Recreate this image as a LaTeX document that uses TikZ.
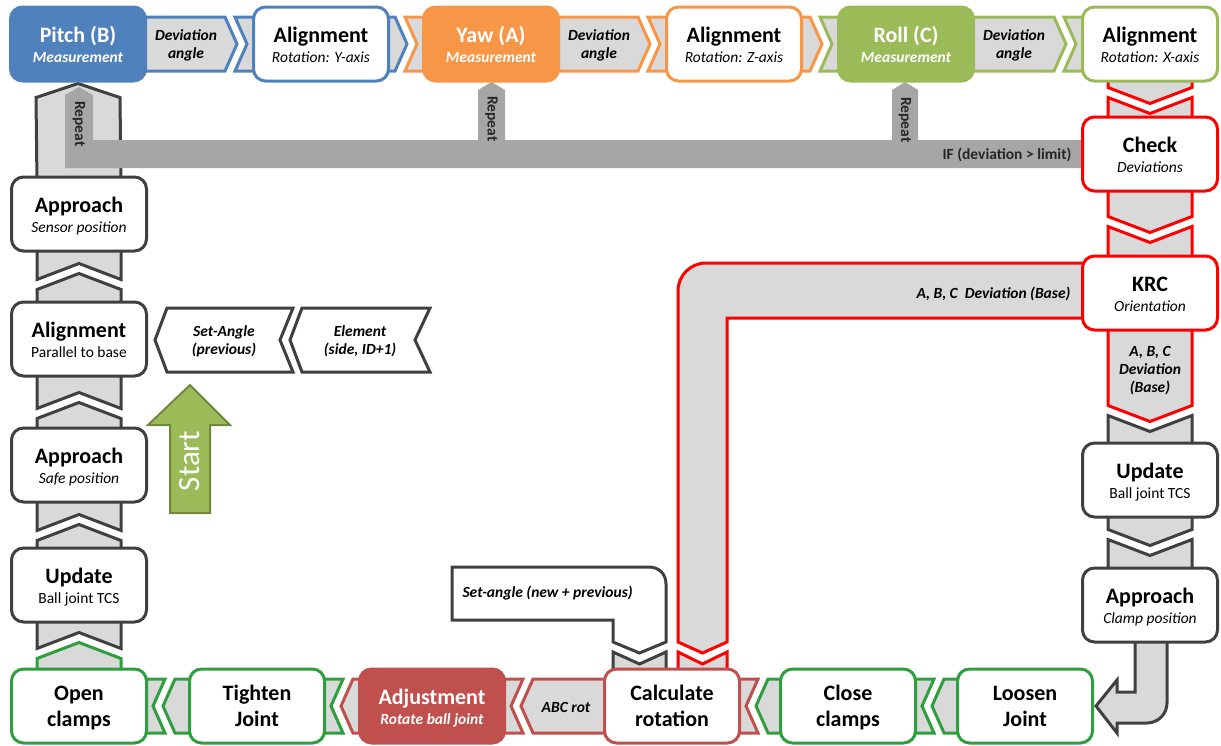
\documentclass[tikz,border=0pt]{standalone}
\usepackage{fontspec}
\setmainfont{Carlito}
\usepackage{xcolor}
\usepackage{tikz}
\usetikzlibrary{calc, backgrounds}

\definecolor{pitchblue}{HTML}{4F81BD}
\definecolor{yaworange}{HTML}{F79646}
\definecolor{rollgreen}{HTML}{9BBB59}
\definecolor{clampgreen}{HTML}{2E9E3E}
\definecolor{checkred}{HTML}{FF0000}
\definecolor{brick}{HTML}{C0504D}
\definecolor{darkline}{HTML}{404040}
\definecolor{bandgray}{HTML}{D9D9D9}
\definecolor{repeatgray}{HTML}{A6A6A6}
\definecolor{startline}{HTML}{71893F}

% box texts: bold head + note
\newcommand{\boxtwo}[2]{{\fontsize{22}{24}\selectfont\bfseries\rule{0pt}{22pt}#1}\\#2\rule[-5pt]{0pt}{5pt}}
\newcommand{\bigtwo}[2]{\rule{0pt}{21pt}#1\\#2\rule[-6pt]{0pt}{6pt}}

% chevron out of #1 and notched tail into #2
\newcommand{\linkright}[4]{%
  \draw[band, draw=#3] ($(#1.east)+(-8,-27)$) -- ($(#2.west)+(-27,-27)$) -- ($(#2.west)+(-15,0)$)
    -- ($(#2.west)+(-27,27)$) -- ($(#1.east)+(-8,27)$) -- cycle;
  \draw[band, draw=#4] ($(#2.west)+(-17,-27)$) -- ($(#2.west)+(8,-27)$) -- ($(#2.west)+(8,27)$)
    -- ($(#2.west)+(-17,27)$) -- ($(#2.west)+(-5,0)$) -- cycle;
}
\newcommand{\linkleft}[4]{%
  \draw[band, draw=#3] ($(#1.west)+(8,-27)$) -- ($(#2.east)+(27,-27)$) -- ($(#2.east)+(15,0)$)
    -- ($(#2.east)+(27,27)$) -- ($(#1.west)+(8,27)$) -- cycle;
  \draw[band, draw=#4] ($(#2.east)+(17,-27)$) -- ($(#2.east)+(-8,-27)$) -- ($(#2.east)+(-8,27)$)
    -- ($(#2.east)+(17,27)$) -- ($(#2.east)+(5,0)$) -- cycle;
}
\newcommand{\linkup}[5]{%
  \draw[band, draw=#3] ($(#1.north)+(-42,8)$) -- ($(#2.south)+(-42,#5+16)$) -- ($(#2.south)+(0,#5)$)
    -- ($(#2.south)+(42,#5+16)$) -- ($(#1.north)+(42,8)$) -- cycle;
  \draw[band, draw=#4] ($(#2.south)+(-42,#5+6)$) -- ($(#2.south)+(-42,-8)$) -- ($(#2.south)+(42,-8)$)
    -- ($(#2.south)+(42,#5+6)$) -- ($(#2.south)+(0,#5-10)$) -- cycle;
}
\newcommand{\linkdown}[5]{%
  \draw[band, draw=#3] ($(#1.south)+(-42,-8)$) -- ($(#2.north)+(-42,-#5-16)$) -- ($(#2.north)+(0,-#5)$)
    -- ($(#2.north)+(42,-#5-16)$) -- ($(#1.south)+(42,-8)$) -- cycle;
  \draw[band, draw=#4] ($(#2.north)+(-42,-#5-6)$) -- ($(#2.north)+(-42,8)$) -- ($(#2.north)+(42,8)$)
    -- ($(#2.north)+(42,-#5-6)$) -- ($(#2.north)+(0,-#5+10)$) -- cycle;
}

\begin{document}
\begin{tikzpicture}[x=1pt, y=-1pt,
  stage/.style={draw=darkline, fill=white, line width=3pt, rounded corners=12pt,
                minimum width=135pt, minimum height=74pt, inner sep=2pt, align=center,
                font=\fontsize{15.5}{20}\selectfont},
  stagebig/.style={stage, font=\fontsize{22}{26}\selectfont\bfseries},
  band/.style={fill=bandgray, line width=3pt, line join=miter},
  bandtext/.style={font=\fontsize{15.5}{18}\selectfont\bfseries\itshape, align=center},
  repeattext/.style={font=\fontsize{15.5}{18}\selectfont\bfseries, text=black!85, rotate=-90}
]
  \useasboundingbox (0,0) rectangle (1221,745);

  % Top row: measurement and alignment
  \node[stage, draw=pitchblue, fill=pitchblue, text=white] (pitch) at (78,44)
    {\boxtwo{Pitch (B)}{\bfseries\itshape Measurement}};
  \node[stage, draw=pitchblue] (algY) at (321,44) {\boxtwo{Alignment}{\itshape Rotation: Y-axis}};
  \node[stage, draw=yaworange, fill=yaworange, text=white] (yaw) at (491,44)
    {\boxtwo{Yaw (A)}{\bfseries\itshape Measurement}};
  \node[stage, draw=yaworange] (algZ) at (734,44) {\boxtwo{Alignment}{\itshape Rotation: Z-axis}};
  \node[stage, draw=rollgreen, fill=rollgreen, text=white] (roll) at (906,44)
    {\boxtwo{Roll (C)}{\bfseries\itshape Measurement}};
  \node[stage, draw=rollgreen] (algX) at (1150,44) {\boxtwo{Alignment}{\itshape Rotation: X-axis}};

  % Right column
  \node[stage, draw=checkred] (check) at (1150,154) {\boxtwo{Check}{\itshape Deviations}};
  \node[stage, draw=checkred] (krc) at (1150,293) {\boxtwo{KRC}{\itshape Orientation}};
  \node[stage] (updR) at (1150,480) {\boxtwo{Update}{Ball joint TCS}};
  \node[stage] (appClamp) at (1150,605) {\boxtwo{Approach}{\itshape Clamp position}};

  % Bottom row
  \node[stagebig, draw=clampgreen] (loosen) at (1025,706) {\bigtwo{Loosen}{Joint}};
  \node[stagebig, draw=clampgreen] (close) at (848,706) {\bigtwo{Close}{clamps}};
  \node[stagebig, draw=brick] (calc) at (672,706) {\bigtwo{Calculate}{rotation}};
  \node[stage, draw=brick, fill=brick, text=white, minimum width=145pt] (adjust) at (432,706)
    {\boxtwo{Adjustment}{\bfseries\itshape Rotate ball joint}};
  \node[stagebig, draw=clampgreen] (tighten) at (257,706) {\bigtwo{Tighten}{Joint}};
  \node[stagebig, draw=clampgreen] (open) at (79,706) {\bigtwo{Open}{clamps}};

  % Left column
  \node[stage] (updL) at (79,585) {\boxtwo{Update}{Ball joint TCS}};
  \node[stage] (appSafe) at (79,465) {\boxtwo{Approach}{\itshape Safe position}};
  \node[stage] (alignBase) at (79,339) {\boxtwo{Alignment}{Parallel to base}};
  \node[stage] (appSensor) at (79,214) {\boxtwo{Approach}{\itshape Sensor position}};

  \begin{pgfonlayer}{background}
    % long band back to pitch
    \draw[band, draw=darkline] ($(appSensor.north)+(-42,8)$) -- ($(pitch.south)+(-42,15)$)
      -- ($(pitch.south)+(0,1)$) -- ($(pitch.south)+(42,15)$) -- ($(appSensor.north)+(42,8)$) -- cycle;

    % repeat loop
    \fill[repeatgray] (65,168) -- (65,95) -- (79,87) -- (93,95) -- (93,140)
      -- (478,140) -- (478,90) -- (491.5,82) -- (505,90) -- (505,140)
      -- (892,140) -- (892,90) -- (905,82) -- (918,90) -- (918,140)
      -- (1090,140) -- (1090,168) -- cycle;

    % top row
    \linkright{pitch}{algY}{pitchblue}{pitchblue}
    \linkright{algY}{yaw}{pitchblue}{yaworange}
    \linkright{yaw}{algZ}{yaworange}{yaworange}
    \linkright{algZ}{roll}{yaworange}{rollgreen}
    \linkright{roll}{algX}{rollgreen}{rollgreen}

    % right column
    \linkdown{algX}{check}{checkred}{checkred}{12}
    \linkdown{check}{krc}{checkred}{checkred}{22}
    \linkdown{krc}{updR}{checkred}{darkline}{20}
    \linkdown{updR}{appClamp}{darkline}{darkline}{21}

    % bent arrow into loosen
    \draw[band, draw=darkline] ($(appClamp.south)+(-15,-8)$) -- (1135,692) -- (1117,692) -- (1117,680)
      -- ($(loosen.east)+(2,0)$) -- (1117,733) -- (1117,723) -- (1147,723)
      .. controls (1158,723) and (1167,714) .. (1167,703) -- ($(appClamp.south)+(17,-8)$) -- cycle;

    % bottom row
    \linkleft{loosen}{close}{clampgreen}{clampgreen}
    \linkleft{close}{calc}{clampgreen}{brick}
    \linkleft{calc}{adjust}{brick}{brick}
    \linkleft{adjust}{tighten}{brick}{clampgreen}
    \linkleft{tighten}{open}{clampgreen}{clampgreen}

    % left column
    \linkup{open}{updL}{clampgreen}{darkline}{19}
    \linkup{updL}{appSafe}{darkline}{darkline}{21}
    \linkup{appSafe}{alignBase}{darkline}{darkline}{25}
    \linkup{alignBase}{appSensor}{darkline}{darkline}{21}

    % KRC deviation band down to calc
    \draw[band, draw=checkred] ($(krc.west)+(8,-30)$) -- (706,263)
      .. controls (690.5,263) and (678,275.5) .. (678,291) -- (678,642) -- (702.5,653)
      -- (727,642) -- (727,318) -- ($(krc.west)+(8,25)$) -- cycle;
    \draw[band, draw=checkred] (678,652) -- (702.5,664) -- (727,652) -- (727,676) -- (678,676) -- cycle;

    % set-angle callout
    \draw[line width=3pt, draw=darkline, fill=white] (452,567) -- (649,567)
      .. controls (659,567) and (666,574) .. (666,584) -- (666,642) -- (639.5,653)
      -- (613,642) -- (613,620) -- (452,620) -- cycle;
    \draw[band, draw=darkline] (613,652) -- (639.5,664) -- (666,652) -- (666,676) -- (613,676) -- cycle;
  \end{pgfonlayer}

  % Band labels
  \node[bandtext] (devB) at ($(pitch.east)+(39,1)$) {Deviation\\angle};
  \node[bandtext] (devA) at ($(yaw.east)+(39,1)$) {Deviation\\angle};
  \node[bandtext] (devC) at ($(roll.east)+(39,1)$) {Deviation\\angle};
  \node[bandtext] (abcDown) at ($(krc.south)+(0,39)$) {A, B, C\\Deviation\\(Base)};
  \node[bandtext, anchor=east] (abcLeft) at ($(krc.west)+(-7,1)$) {A, B, C~~Deviation (Base)};
  \node[bandtext] (abcRot) at ($(calc.west)+(-37,1)$) {ABC rot};
  \node[bandtext, anchor=west] (setNew) at (459,593) {Set-angle (new + previous)};

  % Repeat labels
  \node[repeattext] (repB) at (79,124) {Repeat};
  \node[repeattext] (repA) at (491.5,119) {Repeat};
  \node[repeattext] (repC) at (905,120) {Repeat};
  \node[font=\fontsize{15.5}{18}\selectfont\bfseries, text=black!85, anchor=east] (ifText)
    at ($(check.west)+(-6,1)$) {IF (deviation > limit)};

  % Set-angle / element inputs
  \draw[line width=3pt, draw=darkline, fill=white] (155,340) -- (167,308) -- (293,308) -- (280,340)
    -- (293,372) -- (167,372) -- cycle;
  \draw[line width=3pt, draw=darkline, fill=white] (290,340) -- (302,308) -- (430,308) -- (415,340)
    -- (430,372) -- (302,372) -- cycle;
  \node[bandtext] (setPrev) at (224,341) {Set-Angle\\(previous)};
  \node[bandtext] (element) at (360,341) {Element\\(side, ID+1)};

  % Start arrow
  \draw[line width=2pt, draw=startline, fill=rollgreen] (170,513) -- (170,425) -- (148,425) -- (190,385)
    -- (230,425) -- (210,425) -- (210,513) -- cycle;
  \node[font=\fontsize{31}{31}\selectfont, text=white, rotate=90] (start) at (190,461) {Start};
\end{tikzpicture}
\end{document}
